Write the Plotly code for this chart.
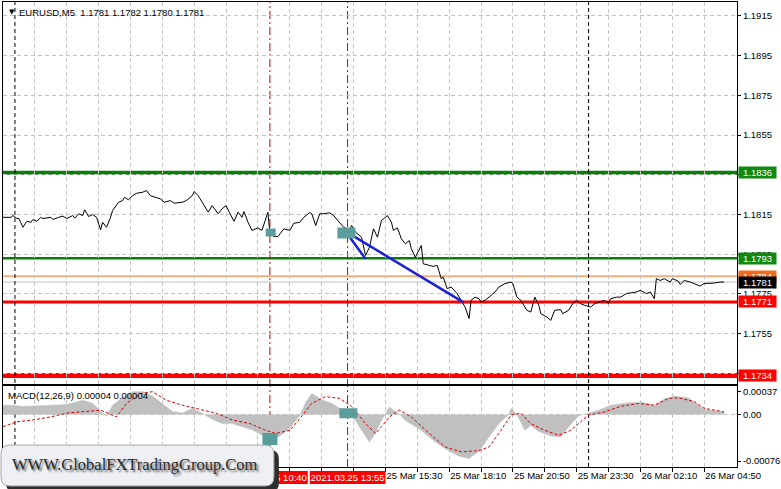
import datetime as dt
import plotly.graph_objects as go

# ---------------- DATA ----------------
price_times = [
    "2021-03-24 23:30", "2021-03-24 23:50", "2021-03-24 23:55", "2021-03-25 00:05", "2021-03-25 00:10",
    "2021-03-25 00:20", "2021-03-25 00:30", "2021-03-25 00:40", "2021-03-25 00:45", "2021-03-25 00:55",
    "2021-03-25 01:05", "2021-03-25 01:10", "2021-03-25 01:30", "2021-03-25 01:35", "2021-03-25 01:50",
    "2021-03-25 02:00", "2021-03-25 02:10", "2021-03-25 02:25", "2021-03-25 02:30", "2021-03-25 02:40",
    "2021-03-25 02:50", "2021-03-25 02:55", "2021-03-25 03:05", "2021-03-25 03:15", "2021-03-25 03:25",
    "2021-03-25 03:35", "2021-03-25 03:40", "2021-03-25 03:50", "2021-03-25 04:00", "2021-03-25 04:05",
    "2021-03-25 04:20", "2021-03-25 04:30", "2021-03-25 04:35", "2021-03-25 04:45", "2021-03-25 04:55",
    "2021-03-25 05:05", "2021-03-25 05:20", "2021-03-25 05:30", "2021-03-25 05:40", "2021-03-25 05:50",
    "2021-03-25 06:05", "2021-03-25 06:15", "2021-03-25 06:30", "2021-03-25 06:40", "2021-03-25 07:00",
    "2021-03-25 07:10", "2021-03-25 07:25", "2021-03-25 07:30", "2021-03-25 07:40", "2021-03-25 07:50",
    "2021-03-25 08:05", "2021-03-25 08:15", "2021-03-25 08:30", "2021-03-25 08:40", "2021-03-25 08:50",
    "2021-03-25 09:00", "2021-03-25 09:10", "2021-03-25 09:20", "2021-03-25 09:30", "2021-03-25 09:35",
    "2021-03-25 09:45", "2021-03-25 09:55", "2021-03-25 10:10", "2021-03-25 10:20", "2021-03-25 10:35",
    "2021-03-25 10:40", "2021-03-25 10:50", "2021-03-25 11:00", "2021-03-25 11:15", "2021-03-25 11:30",
    "2021-03-25 11:40", "2021-03-25 11:55", "2021-03-25 12:05", "2021-03-25 12:20", "2021-03-25 12:25",
    "2021-03-25 12:35", "2021-03-25 12:45", "2021-03-25 12:55", "2021-03-25 13:10", "2021-03-25 13:20",
    "2021-03-25 13:35", "2021-03-25 13:45", "2021-03-25 14:00", "2021-03-25 14:05", "2021-03-25 14:15",
    "2021-03-25 14:30", "2021-03-25 14:40", "2021-03-25 14:50", "2021-03-25 15:00", "2021-03-25 15:10",
    "2021-03-25 15:20", "2021-03-25 15:35", "2021-03-25 15:45", "2021-03-25 15:50", "2021-03-25 16:00",
    "2021-03-25 16:10", "2021-03-25 16:20", "2021-03-25 16:30", "2021-03-25 16:35", "2021-03-25 16:45",
    "2021-03-25 17:00", "2021-03-25 17:05", "2021-03-25 17:20", "2021-03-25 17:30", "2021-03-25 17:40",
    "2021-03-25 17:50", "2021-03-25 17:55", "2021-03-25 18:05", "2021-03-25 18:15", "2021-03-25 18:30",
    "2021-03-25 18:40", "2021-03-25 18:50", "2021-03-25 19:00", "2021-03-25 19:05", "2021-03-25 19:15",
    "2021-03-25 19:25", "2021-03-25 19:30", "2021-03-25 19:40", "2021-03-25 19:50", "2021-03-25 19:55",
    "2021-03-25 20:05", "2021-03-25 20:15", "2021-03-25 20:30", "2021-03-25 20:45", "2021-03-25 20:50",
    "2021-03-25 21:00", "2021-03-25 21:10", "2021-03-25 21:25", "2021-03-25 21:35", "2021-03-25 21:45",
    "2021-03-25 21:55", "2021-03-25 22:00", "2021-03-25 22:15", "2021-03-25 22:25", "2021-03-25 22:35",
    "2021-03-25 22:50", "2021-03-25 22:55", "2021-03-25 23:10", "2021-03-25 23:20", "2021-03-25 23:30",
    "2021-03-25 23:40", "2021-03-25 23:50", "2021-03-26 00:05", "2021-03-26 00:15", "2021-03-26 00:30",
    "2021-03-26 00:40", "2021-03-26 00:50", "2021-03-26 00:55", "2021-03-26 01:10", "2021-03-26 01:20",
    "2021-03-26 01:35", "2021-03-26 01:45", "2021-03-26 02:00", "2021-03-26 02:10", "2021-03-26 02:25",
    "2021-03-26 02:35", "2021-03-26 02:45", "2021-03-26 02:50", "2021-03-26 03:00", "2021-03-26 03:10",
    "2021-03-26 03:25", "2021-03-26 03:30", "2021-03-26 03:45", "2021-03-26 03:50", "2021-03-26 04:00",
    "2021-03-26 04:15", "2021-03-26 04:25", "2021-03-26 04:40", "2021-03-26 04:50", "2021-03-26 05:05",
    "2021-03-26 05:15", "2021-03-26 05:30", "2021-03-26 05:40",
]
price_close = [
    1.18136, 1.18136, 1.18145, 1.18130, 1.18130, 1.18086, 1.18116, 1.18111, 1.18125, 1.18116,
    1.18136, 1.18130, 1.18136, 1.18125, 1.18136, 1.18142, 1.18130, 1.18145, 1.18132, 1.18154,
    1.18145, 1.18174, 1.18140, 1.18150, 1.18136, 1.18073, 1.18111, 1.18086, 1.18136, 1.18170,
    1.18212, 1.18220, 1.18237, 1.18224, 1.18245, 1.18257, 1.18262, 1.18271, 1.18245, 1.18237,
    1.18229, 1.18212, 1.18220, 1.18207, 1.18212, 1.18220, 1.18245, 1.18266, 1.18245, 1.18212,
    1.18162, 1.18195, 1.18154, 1.18179, 1.18195, 1.18154, 1.18116, 1.18162, 1.18136, 1.18165,
    1.18111, 1.18070, 1.18083, 1.18070, 1.18162, 1.18053, 1.18039, 1.18039, 1.18078, 1.18070,
    1.18106, 1.18111, 1.18136, 1.18160, 1.18154, 1.18095, 1.18154, 1.18154, 1.18159, 1.18145,
    1.18111, 1.18086, 1.18073, 1.18095, 1.18061, 1.18036, 1.17944, 1.17986, 1.18078, 1.18036,
    1.18120, 1.18145, 1.18111, 1.18070, 1.18083, 1.18028, 1.18003, 1.18019, 1.17978, 1.17935,
    1.17994, 1.17902, 1.17894, 1.17889, 1.17894, 1.17827, 1.17835, 1.17777, 1.17785, 1.17752,
    1.17718, 1.17684, 1.17626, 1.17718, 1.17734, 1.17726, 1.17709, 1.17718, 1.17734, 1.17743,
    1.17760, 1.17785, 1.17802, 1.17810, 1.17802, 1.17734, 1.17718, 1.17668, 1.17659, 1.17734,
    1.17693, 1.17651, 1.17634, 1.17617, 1.17668, 1.17671, 1.17651, 1.17668, 1.17701, 1.17718,
    1.17701, 1.17693, 1.17684, 1.17701, 1.17709, 1.17718, 1.17701, 1.17726, 1.17734, 1.17734,
    1.17752, 1.17755, 1.17760, 1.17768, 1.17752, 1.17760, 1.17726, 1.17827, 1.17818, 1.17827,
    1.17810, 1.17827, 1.17815, 1.17798, 1.17818, 1.17810, 1.17802, 1.17790, 1.17802, 1.17802,
    1.17805, 1.17810, 1.17810,
]

macd_times = [
    "2021-03-24 23:30", "2021-03-24 23:55", "2021-03-25 00:20", "2021-03-25 00:45", "2021-03-25 01:30",
    "2021-03-25 02:10", "2021-03-25 02:50", "2021-03-25 03:15", "2021-03-25 03:35", "2021-03-25 03:50",
    "2021-03-25 04:05", "2021-03-25 04:25", "2021-03-25 04:40", "2021-03-25 04:55", "2021-03-25 05:20",
    "2021-03-25 05:45", "2021-03-25 06:10", "2021-03-25 06:35", "2021-03-25 07:00", "2021-03-25 07:25",
    "2021-03-25 07:50", "2021-03-25 08:15", "2021-03-25 08:40", "2021-03-25 09:05", "2021-03-25 09:30",
    "2021-03-25 09:55", "2021-03-25 10:20", "2021-03-25 10:45", "2021-03-25 11:05", "2021-03-25 11:30",
    "2021-03-25 11:55", "2021-03-25 12:10", "2021-03-25 12:25", "2021-03-25 12:50", "2021-03-25 13:15",
    "2021-03-25 13:40", "2021-03-25 14:00", "2021-03-25 14:15", "2021-03-25 14:30", "2021-03-25 14:50",
    "2021-03-25 15:05", "2021-03-25 15:20", "2021-03-25 15:40", "2021-03-25 16:05", "2021-03-25 16:20",
    "2021-03-25 17:00", "2021-03-25 17:35", "2021-03-25 18:00", "2021-03-25 18:35", "2021-03-25 19:00",
    "2021-03-25 19:25", "2021-03-25 19:50", "2021-03-25 20:15", "2021-03-25 20:40", "2021-03-25 20:45",
    "2021-03-25 21:00", "2021-03-25 21:20", "2021-03-25 21:35", "2021-03-25 21:55", "2021-03-25 22:25",
    "2021-03-25 22:50", "2021-03-25 23:10", "2021-03-25 23:35", "2021-03-26 00:00", "2021-03-26 00:30",
    "2021-03-26 00:55", "2021-03-26 01:40", "2021-03-26 02:20", "2021-03-26 02:45", "2021-03-26 03:10",
    "2021-03-26 03:35", "2021-03-26 04:10", "2021-03-26 04:35", "2021-03-26 04:50", "2021-03-26 05:15",
    "2021-03-26 05:40",
]
macd_hist = [
    0.00015, 0.00015, 0.00013, 0.00014, 0.00015, 0.00016, 0.00023, 0.00018, 0.00005, -0.00003,
    0.00015, 0.00025, 0.00032, 0.00037, 0.00037, 0.00030, 0.00018, 0.00005, 0.00002, 0.00010,
    0.00002, -0.00008, -0.00015, -0.00015, -0.00020, -0.00025, -0.00034, -0.00042, -0.00035, -0.00022,
    -0.00002, 0.00020, 0.00034, 0.00024, 0.00018, 0.00008, 0.00000, -0.00010, -0.00026, -0.00045,
    -0.00030, -0.00010, 0.00012, 0.00000, -0.00010, -0.00026, -0.00045, -0.00056, -0.00068, -0.00072,
    -0.00060, -0.00037, -0.00015, 0.00000, 0.00010, 0.00000, -0.00026, -0.00018, -0.00028, -0.00035,
    -0.00037, -0.00020, -0.00002, 0.00002, 0.00008, 0.00015, 0.00019, 0.00019, 0.00014, 0.00025,
    0.00030, 0.00027, 0.00015, 0.00008, 0.00006, 0.00004,
]

signal_times = [
    "2021-03-24 23:30", "2021-03-25 00:05", "2021-03-25 00:45", "2021-03-25 01:30", "2021-03-25 02:10",
    "2021-03-25 02:50", "2021-03-25 03:35", "2021-03-25 04:00", "2021-03-25 04:15", "2021-03-25 04:40",
    "2021-03-25 05:15", "2021-03-25 05:45", "2021-03-25 06:20", "2021-03-25 07:00", "2021-03-25 07:45",
    "2021-03-25 08:25", "2021-03-25 09:05", "2021-03-25 09:50", "2021-03-25 10:30", "2021-03-25 10:55",
    "2021-03-25 11:30", "2021-03-25 11:55", "2021-03-25 12:25", "2021-03-25 13:00", "2021-03-25 13:35",
    "2021-03-25 14:05", "2021-03-25 14:40", "2021-03-25 15:05", "2021-03-25 15:20", "2021-03-25 15:40",
    "2021-03-25 16:05", "2021-03-25 16:35", "2021-03-25 17:20", "2021-03-25 18:00", "2021-03-25 18:40",
    "2021-03-25 19:25", "2021-03-25 19:50", "2021-03-25 20:20", "2021-03-25 20:45", "2021-03-25 21:10",
    "2021-03-25 21:35", "2021-03-25 22:10", "2021-03-25 22:45", "2021-03-25 23:15", "2021-03-26 00:00",
    "2021-03-26 00:40", "2021-03-26 01:20", "2021-03-26 02:05", "2021-03-26 02:45", "2021-03-26 03:20",
    "2021-03-26 03:45", "2021-03-26 04:25", "2021-03-26 04:50", "2021-03-26 05:40",
]
signal_vals = [
    -0.00020, -0.00012, -0.00009, -0.00004, 0.00002, 0.00004, 0.00007, 0.00000, -0.00004, 0.00018,
    0.00034, 0.00037, 0.00023, 0.00015, 0.00008, 0.00002, -0.00009, -0.00015, -0.00026, -0.00031,
    -0.00026, -0.00007, 0.00018, 0.00029, 0.00026, 0.00013, -0.00015, -0.00031, -0.00020, -0.00004,
    0.00007, -0.00004, -0.00031, -0.00053, -0.00061, -0.00059, -0.00053, -0.00026, -0.00001, 0.00002,
    -0.00015, -0.00026, -0.00034, -0.00026, -0.00001, 0.00004, 0.00013, 0.00018, 0.00015, 0.00026,
    0.00027, 0.00021, 0.00010, 0.00004,
]

level_prices = [1.1836, 1.1793, 1.1784, 1.1781, 1.1771, 1.1734]
level_labels = ["1.1836", "1.1793", "1.1784", "1.1781", "1.1771", "1.1734"]

trend_times = [["2021-03-25 13:50", "2021-03-25 14:40"], ["2021-03-25 13:50", "2021-03-25 18:45"]]
trend_prices = [[1.18065, 1.17927], [1.18065, 1.17709]]

main_mark_times = ["2021-03-25 10:42", "2021-03-25 13:52"]
main_mark_prices = [1.18060, 1.18057]
macd_mark_times = ["2021-03-25 10:40", "2021-03-25 13:57"]
macd_mark_vals = [-0.00040, 0.00002]

day_separators = ["2021-03-25 00:00", "2021-03-26 00:00"]
event_times = ["2021-03-25 10:40", "2021-03-25 13:55"]
event_labels = ["2021.03.25 10:40", "2021.03.25 13:55"]

price_ticks = [1.1915, 1.1895, 1.1875, 1.1855, 1.1835, 1.1815, 1.1795, 1.1775, 1.1755, 1.1735]
price_tick_labels = ["1.1915", "1.1895", "1.1875", "1.1855", "", "1.1815", "1.1795", "1.1775",
                     "1.1755", ""]
macd_ticks = [0.00037, 0.0, -0.00076]
macd_tick_labels = ["0.00037", "0.00", "-0.00076"]

time_ticks = [
    "2021-03-25 00:50", "2021-03-25 02:10", "2021-03-25 03:30", "2021-03-25 04:50", "2021-03-25 06:10",
    "2021-03-25 07:30", "2021-03-25 08:50", "2021-03-25 10:10", "2021-03-25 11:30", "2021-03-25 12:50",
    "2021-03-25 14:10", "2021-03-25 15:30", "2021-03-25 16:50", "2021-03-25 18:10", "2021-03-25 19:30",
    "2021-03-25 20:50", "2021-03-25 22:10", "2021-03-25 23:30", "2021-03-26 00:50", "2021-03-26 02:10",
    "2021-03-26 03:30", "2021-03-26 04:50",
]
time_tick_labels = [
    "", "", "", "", "", "", "", "", "", "", "",
    "25 Mar 15:30", "", "25 Mar 18:10", "", "25 Mar 20:50", "", "25 Mar 23:30", "",
    "26 Mar 02:10", "", "26 Mar 04:50",
]

header_text = "EURUSD,M5&nbsp;&nbsp;1.1781 1.1782 1.1780 1.1781"
macd_text = "MACD(12,26,9) 0.00004 0.00004"
logo_text = "WWW.GlobalFXTradingGroup.Com"

# ---------------- LAYOUT HELPERS ----------------
W, H = 781, 489
L, R, T, B = 3, 41, 1, 22
PW, PH = W - L - R, H - T - B
BOTTOM = H - B
MIN_PER_PX = 2.5  # time axis: 5-minute bars drawn 2 px apart


def xp(px):
    return (px - L) / PW


def yp(py):
    return (BOTTOM - py) / PH


def tshift(t, px):
    d = dt.datetime.strptime(t, "%Y-%m-%d %H:%M") + dt.timedelta(minutes=px * MIN_PER_PX)
    return d.strftime("%Y-%m-%d %H:%M:%S")


FONT = "Liberation Sans, Arial, sans-serif"
GRID = "#c4c4c4"

fig = go.Figure()

fig.add_trace(go.Scatter(x=price_times, y=price_close, mode="lines",
                         line=dict(color="black", width=1), xaxis="x", yaxis="y",
                         hoverinfo="skip"))
for tt, pp in zip(trend_times, trend_prices):
    fig.add_trace(go.Scatter(x=tt, y=pp, mode="lines",
                             line=dict(color="#1c22d0", width=2.5), xaxis="x", yaxis="y",
                             hoverinfo="skip"))
fig.add_trace(go.Scatter(x=macd_times, y=macd_hist, mode="lines", fill="tozeroy",
                         fillcolor="#c0c0c0", line=dict(color="#c0c0c0", width=0.5),
                         xaxis="x2", yaxis="y2", hoverinfo="skip"))
fig.add_trace(go.Scatter(x=signal_times, y=signal_vals, mode="lines",
                         line=dict(color="#d00000", width=1, dash="3px,2px"),
                         xaxis="x2", yaxis="y2", hoverinfo="skip"))

shapes = []
level_styles = [
    dict(color="#0b7d0b", width=4),
    dict(color="#0b7d0b", width=2.5),
    dict(color="#f26a1b", width=1),
    dict(color="#c0c0c0", width=1),
    dict(color="#ff0000", width=3),
    dict(color="#ff0000", width=5),
]
label_bg = ["#0f8a0f", "#0f8a0f", "#f26a1b", "#000000", "#ff0000", "#ff0000"]
for p, st in zip(level_prices, level_styles):
    shapes.append(dict(type="line", xref="paper", x0=0, x1=1, yref="y", y0=p, y1=p,
                       line=st, layer="below"))
shapes.append(dict(type="line", xref="paper", x0=0, x1=1, yref="y2", y0=0, y1=0,
                   line=dict(color=GRID, width=1, dash="4px,3px"), layer="below"))
for t in day_separators:
    shapes.append(dict(type="line", xref="x", x0=t, x1=t, yref="paper", y0=0, y1=1,
                       line=dict(color="black", width=1, dash="4px,3px"), layer="below"))
for t in event_times:
    shapes.append(dict(type="line", xref="x", x0=t, x1=t, yref="paper", y0=0, y1=1,
                       line=dict(color="#d00000", width=1, dash="8px,3px,2px,3px"), layer="below"))
for t, p, (w, h) in zip(main_mark_times, main_mark_prices, [(10, 8), (18, 11)]):
    shapes.append(dict(type="rect", xref="x", yref="y", xsizemode="pixel", ysizemode="pixel",
                       xanchor=t, yanchor=p, x0=-w / 2, x1=w / 2, y0=-h / 2, y1=h / 2,
                       fillcolor="#5b9c9c", line=dict(width=0), layer="above"))
for t, v, (w, h) in zip(macd_mark_times, macd_mark_vals, [(15, 12), (18, 10)]):
    shapes.append(dict(type="rect", xref="x2", yref="y2", xsizemode="pixel", ysizemode="pixel",
                       xanchor=t, yanchor=v, x0=-w / 2, x1=w / 2, y0=-h / 2, y1=h / 2,
                       fillcolor="#5b9c9c", line=dict(width=0), layer="above"))
# event time labels on the time axis (drawn as shapes so the logo can cover them)
for t, lab in zip(event_times, event_labels):
    shapes.append(dict(type="rect", xref="x2", x0=tshift(t, -38), x1=tshift(t, 38),
                       yref="paper", y0=yp(484), y1=yp(471), fillcolor="#ff0000",
                       line=dict(width=0), layer="above",
                       label=dict(text=lab, font=dict(color="white", size=9.5, family=FONT),
                                  textposition="middle center")))


def rounded(x0, y0, x1, y1, r):
    rx, ry = r / PW, r / PH
    X0, X1, Y0, Y1 = xp(x0), xp(x1), yp(y0), yp(y1)
    return (f"M {X0 + rx},{Y0} L {X1 - rx},{Y0} Q {X1},{Y0} {X1},{Y0 - ry} "
            f"L {X1},{Y1 + ry} Q {X1},{Y1} {X1 - rx},{Y1} L {X0 + rx},{Y1} "
            f"Q {X0},{Y1} {X0},{Y1 + ry} L {X0},{Y0 - ry} Q {X0},{Y0} {X0 + rx},{Y0} Z")


shapes.append(dict(type="path", xref="paper", yref="paper", path=rounded(6, 450, 280, 492, 9),
                   fillcolor="#2e2e2e", line=dict(width=0), layer="above"))
shapes.append(dict(type="path", xref="paper", yref="paper", path=rounded(1, 445, 275, 486, 9),
                   fillcolor="#eef0f3", line=dict(color="#a8a8a8", width=1), layer="above"))

annotations = []
for p, lab, bg in zip(level_prices, level_labels, label_bg):
    annotations.append(dict(xref="paper", x=1, xanchor="left", xshift=1, yref="y", y=p,
                            yanchor="middle", text=lab, showarrow=False, bgcolor=bg,
                            width=37, height=11, borderpad=0, align="center",
                            font=dict(color="white", size=9.5, family=FONT)))
annotations.append(dict(xref="paper", x=xp(7), xanchor="left", yref="paper", y=yp(11),
                        yanchor="middle", text="▼", showarrow=False,
                        font=dict(color="black", size=7, family="DejaVu Sans")))
annotations.append(dict(xref="paper", x=xp(17), xanchor="left", yref="paper", y=yp(11.5),
                        yanchor="middle", text=header_text, showarrow=False,
                        font=dict(color="black", size=9.5, family=FONT)))
annotations.append(dict(xref="paper", x=xp(6), xanchor="left", yref="paper", y=yp(395),
                        yanchor="middle", text=macd_text, showarrow=False,
                        font=dict(color="black", size=9.5, family=FONT)))
annotations.append(dict(xref="paper", x=xp(136), xanchor="center", yref="paper", y=yp(464),
                        yanchor="middle", text=logo_text, showarrow=False,
                        font=dict(color="#2a2a2a", size=16.5, family="Liberation Serif, serif",
                                  shadow="2px 2px 2px #6a6a6a")))

main_dom = [yp(384), 1]
macd_dom = [0, yp(386)]

fig.update_layout(
    width=W, height=H,
    margin=dict(l=L, r=R, t=T, b=B, pad=0),
    paper_bgcolor="white", plot_bgcolor="white",
    showlegend=False,
    font=dict(family=FONT, size=9.5, color="black"),
    xaxis=dict(type="date", anchor="y", domain=[0, 1],
               range=["2021-03-24 23:30", "2021-03-26 06:12:30"],
               tickvals=time_ticks, ticktext=time_tick_labels, showticklabels=False,
               showgrid=True, gridcolor=GRID, griddash="4px,3px", gridwidth=1,
               showline=True, linecolor="black", linewidth=1, mirror=True,
               ticks="", zeroline=False),
    yaxis=dict(domain=main_dom, anchor="x", side="right",
               range=[1.172957, 1.192204],
               tickvals=price_ticks, ticktext=price_tick_labels,
               showgrid=True, gridcolor=GRID, griddash="4px,3px", gridwidth=1,
               showline=True, linecolor="black", linewidth=1, mirror=True,
               ticks="outside", ticklen=3, tickcolor="black", zeroline=False,
               tickfont=dict(size=9.5, family=FONT)),
    xaxis2=dict(type="date", anchor="y2", domain=[0, 1], matches="x",
                tickvals=time_ticks, ticktext=time_tick_labels,
                ticklabelposition="outside right", tickangle=0,
                showgrid=True, gridcolor=GRID, griddash="4px,3px", gridwidth=1,
                showline=True, linecolor="black", linewidth=1, mirror=True,
                ticks="outside", ticklen=4, tickcolor="black", zeroline=False,
                tickfont=dict(size=9.5, family=FONT)),
    yaxis2=dict(domain=macd_dom, anchor="x2", side="right",
                range=[-0.000857, 0.00046],
                tickvals=macd_ticks, ticktext=macd_tick_labels,
                showgrid=False,
                showline=True, linecolor="black", linewidth=1, mirror=True,
                ticks="outside", ticklen=3, tickcolor="black", zeroline=False,
                tickfont=dict(size=9.5, family=FONT)),
    shapes=shapes,
    annotations=annotations,
)

fig.write_html("out.html", config={"displayModeBar": False},
               post_script="document.body.style.margin='0';")
